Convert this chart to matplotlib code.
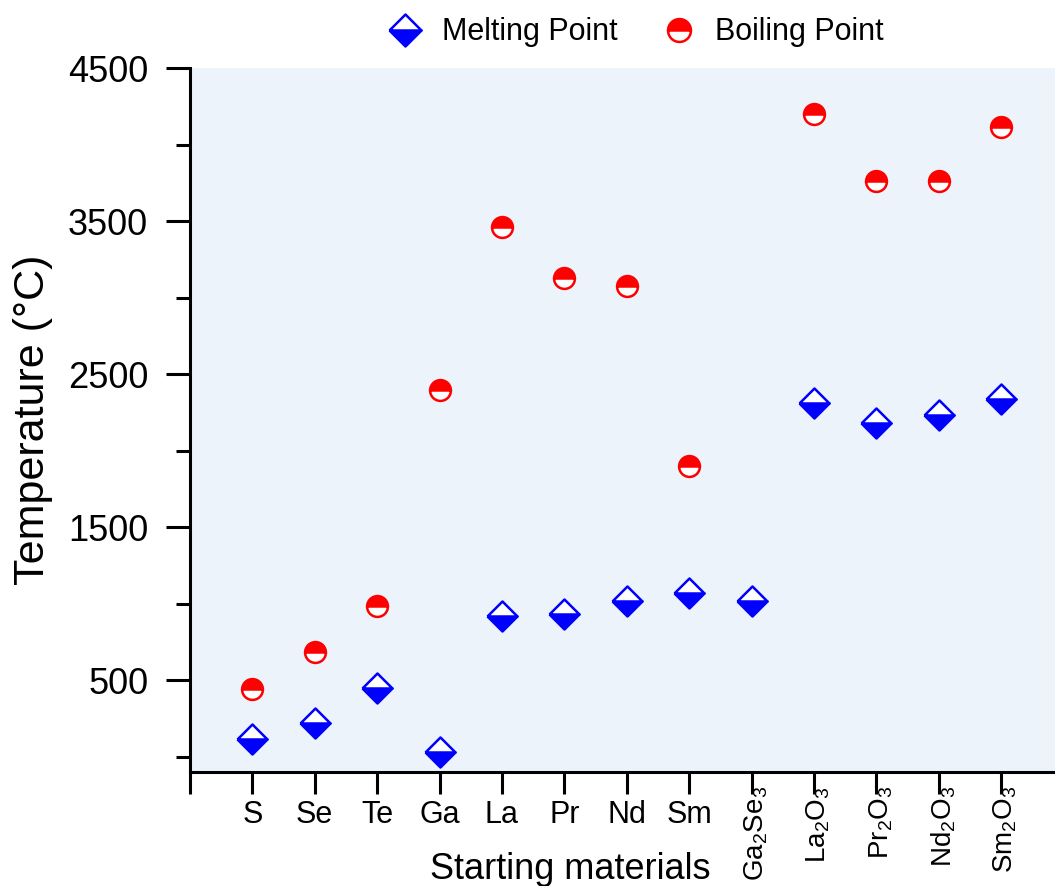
import matplotlib.pyplot as plt
from matplotlib.markers import MarkerStyle
import numpy as np

plt.rcParams['font.family'] = ['Liberation Sans', 'DejaVu Sans']
plt.rcParams['mathtext.default'] = 'regular'

# data
materials = ['S', 'Se', 'Te', 'Ga', 'La', 'Pr', 'Nd', 'Sm',
             r'Ga$_2$Se$_3$', r'La$_2$O$_3$', r'Pr$_2$O$_3$', r'Nd$_2$O$_3$', r'Sm$_2$O$_3$']
melting = [115, 221, 450, 30, 920, 931, 1021, 1072, 1020, 2315, 2183, 2233, 2335]
boiling = [445, 685, 988, 2400, 3464, 3130, 3074, 1900, np.nan, 4200, 3760, 3760, 4118]
rotated = [False] * 8 + [True] * 5

x = np.arange(len(materials))

fig = plt.figure(figsize=(10.55, 8.86), dpi=100)
ax = fig.add_axes([0.180, 0.1287, 0.82, 0.7945])
ax.set_facecolor('#EDF3FB')

diamond = MarkerStyle('D', fillstyle='bottom', joinstyle='round')
circle = MarkerStyle('o', fillstyle='top', joinstyle='round')
ax.plot(x, melting, linestyle='none', marker=diamond, markersize=15,
        color='blue', markerfacecoloralt='white',
        markeredgecolor='blue', markeredgewidth=1.8, label='Melting Point')
ax.plot(x, boiling, linestyle='none', marker=circle, markersize=15,
        color='red', markerfacecoloralt='white',
        markeredgecolor='red', markeredgewidth=1.8, label='Boiling Point')

ax.set_xlim(-1, 12.86)
ax.set_ylim(-98, 4500)

ax.set_yticks([500, 1500, 2500, 3500, 4500])
ax.set_yticks([0, 1000, 2000, 3000, 4000], minor=True)
ax.set_xticks(np.arange(-1, len(materials)))
ax.set_xticklabels([''] + [m if not r else '' for m, r in zip(materials, rotated)])
# formula labels drawn rotated, right under the axis
for xi, m, r in zip(x, materials, rotated):
    if r:
        ax.text(xi + 0.07, -0.02, m, transform=ax.get_xaxis_transform(),
                rotation=90, ha='center', va='top', fontsize=20)

ax.tick_params(axis='y', which='major', length=17, width=2.2, labelsize=26, pad=13)
ax.tick_params(axis='y', which='minor', length=10, width=2.2)
ax.tick_params(axis='x', which='major', length=16, width=2.2, labelsize=22, pad=4)

for s in ['top', 'right']:
    ax.spines[s].set_visible(False)
for s in ['left', 'bottom']:
    ax.spines[s].set_linewidth(2.2)

ax.set_xlabel('Starting materials', fontsize=26)
ax.xaxis.set_label_coords(0.44, -0.113)
ax.set_ylabel('Temperature (°C)', fontsize=31)
ax.yaxis.set_label_coords(-0.158, 0.5)

ax.legend(loc='lower center', bbox_to_anchor=(0.515, 1.012), ncol=2, frameon=False,
          fontsize=22, handlelength=1.2, handletextpad=0.6, columnspacing=1.4,
          borderaxespad=0.0, markerscale=1.1)

fig.savefig('out.png', dpi=100)
